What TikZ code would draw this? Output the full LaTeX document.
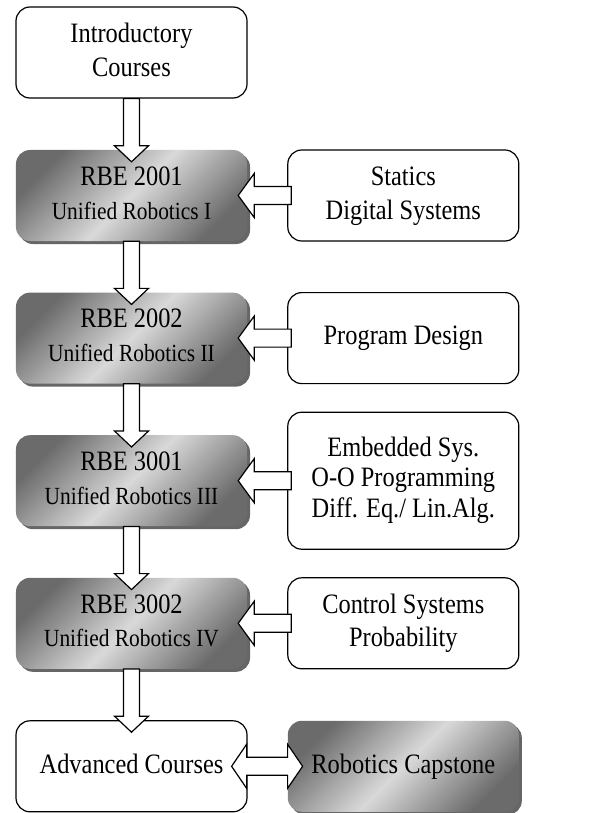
\documentclass[tikz,border=0pt]{standalone}
\usepackage{fontspec}
\setmainfont{Liberation Serif}
\usepackage{graphicx}
\usepackage{tikz}
\usetikzlibrary{positioning, calc, shadows}

\newcommand{\boxfont}{\fontsize{24.5}{29.5}\selectfont}
\newcommand{\subfont}{\fontsize{21.5}{26}\selectfont}
% text is set a little taller than wide, as in the original
\newcommand{\tall}[1]{\scalebox{1}[1.15]{\begin{tabular}{@{}c@{}}#1\end{tabular}}}

\tikzset{
  plainbox/.style={draw, line width=1.2pt, rounded corners=14bp, fill=white,
    minimum width=231bp, minimum height=91bp, inner sep=0pt, font=\boxfont},
  rbebox/.style={rounded corners=14bp, minimum width=231bp, minimum height=91bp,
    inner sep=0pt, font=\boxfont,
    left color=black!58, right color=black!58, middle color=black!15, shading angle=45,
    drop shadow={shadow xshift=3bp, shadow yshift=-3bp, fill=black!60, opacity=1}},
  fatarrow/.style={draw, fill=white, line width=1.2pt, line join=miter},
}

% block arrow going down from #1 to #2
\newcommand{\fatdown}[2]{%
  \draw[fatarrow] ($(#1.south)+(-8,0)$) -- ($(#2.north)+(-8,-4)$) -- ($(#2.north)+(-17,-4)$)
    -- ($(#2.north)+(0,12)$) -- ($(#2.north)+(17,-4)$) -- ($(#2.north)+(8,-4)$)
    -- ($(#1.south)+(8,0)$) -- cycle;}
% block arrow going left from #1 to #2
\newcommand{\fatleft}[2]{%
  \draw[fatarrow] ($(#1.west)+(4,-9)$) -- ($(#2.east)+(7,-9)$) -- ($(#2.east)+(7,-22)$)
    -- ($(#2.east)+(-9,0)$) -- ($(#2.east)+(7,22)$) -- ($(#2.east)+(7,9)$)
    -- ($(#1.west)+(4,9)$) -- cycle;}

\begin{document}
\begin{tikzpicture}[x=1bp, y=-1bp]
    \useasboundingbox (0,0) rectangle (616,813);

    % Main sequence
    \node[plainbox] (intro) at (131.5,52.5) {\tall{Introductory\\Courses}};
    \node[rbebox, below=51.2bp of intro] (rbe1) {\tall{RBE 2001\\{\subfont Unified Robotics I}}};
    \node[rbebox, below=51.2bp of rbe1] (rbe2) {\tall{RBE 2002\\{\subfont Unified Robotics II}}};
    \node[rbebox, below=51.2bp of rbe2] (rbe3) {\tall{RBE 3001\\{\subfont Unified Robotics III}}};
    \node[rbebox, below=51.2bp of rbe3] (rbe4) {\tall{RBE 3002\\{\subfont Unified Robotics IV}}};
    \node[plainbox, below=51.2bp of rbe4] (adv) {\tall{Advanced Courses}};

    % Side prerequisites
    \node[plainbox, right=40bp of rbe1] (stat) {\tall{Statics\\Digital Systems}};
    \node[plainbox, right=40bp of rbe2] (prog) {\tall{Program Design}};
    \node[plainbox, right=40bp of rbe3, minimum height=137bp,
      font=\fontsize{24.5}{26.5}\selectfont] (emb) {\tall{Embedded Sys.\\O-O Programming\\Diff. Eq./ Lin.Alg.}};
    \node[plainbox, right=40bp of rbe4] (ctrl) {\tall{Control Systems\\Probability}};
    \node[rbebox, right=40bp of adv] (cap) {\tall{Robotics Capstone}};

    % Arrows
    \fatdown{intro}{rbe1}
    \fatdown{rbe1}{rbe2}
    \fatdown{rbe2}{rbe3}
    \fatdown{rbe3}{rbe4}
    \fatdown{rbe4}{adv}
    \fatleft{stat}{rbe1}
    \fatleft{prog}{rbe2}
    \fatleft{emb}{rbe3}
    \fatleft{ctrl}{rbe4}
    \draw[fatarrow] ($(adv.east)+(-16,0)$) -- ($(adv.east)+(-1,-22)$) -- ($(adv.east)+(-1,-9)$)
      -- ($(cap.west)+(0,-9)$) -- ($(cap.west)+(0,-22)$) -- ($(cap.west)+(15,0)$)
      -- ($(cap.west)+(0,22)$) -- ($(cap.west)+(0,9)$) -- ($(adv.east)+(-1,9)$)
      -- ($(adv.east)+(-1,22)$) -- cycle;
\end{tikzpicture}
\end{document}
